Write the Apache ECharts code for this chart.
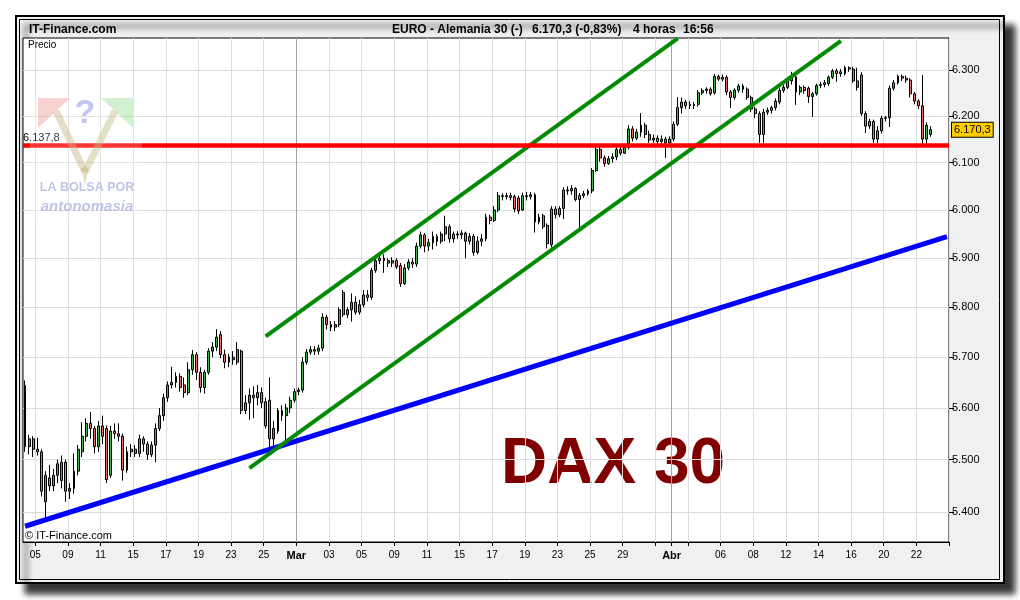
<!DOCTYPE html>
<html><head><meta charset="utf-8">
<script src="https://cdn.jsdelivr.net/npm/echarts@6/dist/echarts.min.js"></script>
<style>html,body{margin:0;padding:0;background:#fff}#c{width:1020px;height:600px}</style>
</head><body><div id="c"></div><script>
// ---- data ----
const febDays = [4,5,8,9,10,11,12,15,16,17,18,19,22,23,24,25,26];
const marDays = [1,2,3,4,5,8,9,10,11,12,15,16,17,18,19,22,23,24,25,26,29,30,31];
const aprDays = [1,2,5,6,7,8,9,12,13,14,15,16,19,20,21,22,23];
const monthLabels = { Feb: 'Feb', Mar: 'Mar', Apr: 'Abr' };
const tickDays = ['Feb 05','Feb 09','Feb 11','Feb 15','Feb 17','Feb 19','Feb 23','Feb 25',
  'Mar 01','Mar 03','Mar 05','Mar 09','Mar 11','Mar 15','Mar 17','Mar 19','Mar 23','Mar 25','Mar 29','Mar 31',
  'Apr 01','Apr 02','Apr 06','Apr 08','Apr 12','Apr 14','Apr 16','Apr 20','Apr 22'];
const hiddenTickLabels = ['Mar 31','Apr 02'];
const barsPerDay = 4;
const firstDayBars = 3;
const yTicks = [5400,5500,5600,5700,5800,5900,6000,6100,6200,6300];
const yRange = [5344.4, 6370.6];
// [open, close, low, high] per 4-hour bar
const candles = [
[5644,5525,5515,5654],[5525,5540,5510,5548],[5540,5520,5505,5545],[5520,5515,5508,5542],[5515,5440,5430,5520],
[5420,5470,5385,5478],[5465,5450,5440,5490],[5450,5470,5440,5482],[5470,5492,5455,5500],[5460,5495,5445,5508],
[5495,5440,5420,5500],[5440,5445,5425,5455],[5445,5478,5435,5512],[5478,5520,5470,5528],[5515,5545,5505,5572],
[5545,5570,5535,5580],[5570,5560,5540,5592],[5560,5525,5512,5565],[5525,5565,5515,5575],[5565,5545,5530,5585],
[5560,5462,5455,5566],[5470,5555,5465,5565],[5555,5550,5540,5570],[5550,5545,5535,5570],[5545,5480,5460,5550],
[5480,5515,5475,5525],[5515,5520,5505,5530],[5520,5512,5505,5528],[5512,5540,5505,5548],[5540,5530,5515,5545],
[5530,5510,5500,5535],[5510,5528,5505,5535],[5528,5560,5495,5570],[5560,5585,5555,5600],[5585,5620,5575,5628],
[5620,5645,5612,5652],[5645,5650,5638,5681],[5650,5662,5640,5670],[5662,5640,5632,5668],[5645,5630,5620,5660],
[5630,5675,5625,5690],[5675,5705,5665,5714],[5705,5670,5655,5710],[5670,5640,5630,5680],[5640,5670,5628,5675],
[5670,5712,5665,5718],[5712,5720,5700,5730],[5720,5740,5712,5756],[5745,5705,5698,5752],[5705,5690,5678,5715],
[5690,5700,5680,5706],[5700,5695,5685,5712],[5690,5715,5685,5730],[5712,5595,5588,5715],[5595,5610,5588,5625],
[5610,5625,5577,5638],[5625,5620,5580,5642],[5620,5630,5605,5645],[5630,5610,5600,5640],[5612,5565,5560,5620],
[5615,5540,5522,5660],[5540,5560,5520,5575],[5555,5595,5550,5600],[5595,5585,5575,5605],[5585,5600,5526,5608],
[5600,5615,5590,5622],[5615,5632,5610,5638],[5632,5635,5625,5640],[5635,5690,5630,5700],[5690,5710,5685,5716],
[5710,5715,5705,5722],[5715,5712,5704,5722],[5712,5718,5705,5725],[5718,5780,5712,5788],[5780,5765,5755,5785],
[5765,5760,5752,5772],[5760,5765,5752,5772],[5765,5795,5760,5800],[5830,5785,5780,5835],[5785,5795,5778,5800],
[5795,5810,5771,5828],[5810,5790,5785,5822],[5790,5805,5785,5815],[5805,5825,5800,5835],[5825,5820,5812,5835],
[5820,5875,5815,5880],[5875,5895,5870,5900],[5895,5900,5888,5908],[5900,5895,5870,5908],[5895,5890,5882,5900],
[5890,5895,5882,5902],[5895,5882,5878,5900],[5885,5848,5841,5890],[5848,5880,5845,5888],[5880,5892,5875,5898],
[5892,5888,5880,5900],[5888,5925,5882,5932],[5925,5948,5920,5955],[5948,5925,5912,5952],[5925,5932,5915,5940],
[5932,5945,5918,5955],[5945,5935,5925,5950],[5935,5950,5930,5955],[5950,5965,5935,5988],[5965,5940,5932,5970],
[5940,5950,5932,5955],[5950,5948,5940,5956],[5948,5952,5940,5958],[5952,5935,5900,5955],[5935,5945,5928,5952],
[5945,5912,5905,5950],[5912,5935,5908,5945],[5935,5940,5925,5950],[5940,5985,5935,5992],[5985,5978,5970,5990],
[5978,6000,5975,6008],[6000,6030,5995,6038],[6030,6028,6020,6035],[6028,6030,6022,6036],[6030,6026,6020,6036],
[6028,6002,5995,6032],[6025,5998,5992,6030],[6000,6030,5998,6036],[6030,6028,6020,6038],[6028,6032,6022,6038],
[6032,5975,5953,6036],[5975,5985,5970,5992],[5988,5965,5960,5992],[5968,5930,5920,5972],[5928,6002,5922,6008],
[6002,5990,5982,6008],[5990,6003,5985,6008],[6003,6042,5981,6048],[6042,6040,6032,6050],[6040,6045,6032,6052],
[6045,6022,6018,6048],[6022,6030,5958,6036],[6030,6034,6025,6040],[6034,6040,6030,6044],[6040,6083,6035,6088],
[6083,6128,6080,6134],[6128,6110,6102,6134],[6110,6098,6091,6115],[6098,6108,6095,6114],[6108,6112,6100,6120],
[6112,6128,6105,6134],[6128,6120,6115,6135],[6120,6132,6118,6138],[6132,6172,6128,6180],[6172,6152,6145,6178],
[6152,6165,6148,6172],[6165,6180,6155,6206],[6180,6160,6152,6185],[6160,6148,6142,6168],[6148,6152,6142,6160],
[6152,6145,6140,6158],[6145,6150,6140,6158],[6150,6142,6110,6155],[6142,6150,6138,6156],[6150,6182,6145,6188],
[6182,6218,6178,6241],[6218,6230,6205,6240],[6230,6222,6215,6235],[6222,6225,6215,6232],[6225,6222,6215,6230],
[6225,6250,6220,6256],[6250,6255,6245,6260],[6255,6258,6248,6262],[6258,6248,6244,6262],[6250,6286,6246,6291],
[6286,6280,6276,6290],[6280,6284,6275,6290],[6284,6252,6245,6288],[6252,6240,6217,6256],[6240,6256,6235,6260],
[6256,6265,6250,6270],[6265,6258,6250,6270],[6258,6240,6235,6262],[6240,6215,6208,6244],[6215,6205,6195,6220],
[6205,6160,6142,6210],[6160,6208,6142,6215],[6208,6212,6202,6218],[6212,6218,6205,6222],[6218,6232,6212,6238],
[6230,6255,6225,6260],[6255,6262,6250,6268],[6262,6276,6258,6282],[6276,6285,6268,6296],[6285,6252,6224,6290],
[6252,6262,6245,6266],[6262,6255,6248,6266],[6260,6242,6228,6264],[6242,6248,6198,6252],[6248,6266,6244,6270],
[6266,6268,6260,6274],[6268,6272,6262,6278],[6270,6284,6265,6288],[6284,6298,6280,6302],[6298,6292,6274,6303],
[6292,6296,6285,6302],[6292,6305,6288,6309],[6305,6302,6296,6308],[6302,6276,6272,6307],[6276,6262,6255,6305],
[6289,6205,6200,6295],[6205,6178,6163,6210],[6178,6188,6172,6194],[6188,6150,6142,6192],[6150,6168,6142,6178],
[6168,6195,6162,6200],[6195,6196,6188,6200],[6196,6260,6176,6266],[6260,6272,6255,6278],[6272,6286,6268,6290],
[6286,6282,6276,6290],[6282,6278,6272,6288],[6278,6248,6240,6282],[6248,6232,6225,6252],[6232,6222,6215,6236],
[6222,6150,6140,6289],[6150,6180,6140,6186],[6160,6170.3,6155,6178]
];
const supportLevel = 6137.8;
const lastPrice = 6170.3;
const changePct = -0.83;
// trend lines: [barIndex, price] end points
const blueTrend = [[0, 5373.8], [226, 5944.7]];
const greenUpper = [[59, 5741.5], [160, 6369.7]];
const greenLower = [[55, 5483.6], [200, 6364.0]];

// ---- helpers ----
function fmt(v, d) {
  const s = v.toFixed(d);
  const parts = s.split('.');
  const neg = parts[0].startsWith('-');
  let ip = neg ? parts[0].slice(1) : parts[0];
  ip = ip.replace(/\B(?=(\d{3})+(?!\d))/g, '.');
  return (neg ? '-' : '') + ip + (parts[1] ? ',' + parts[1] : '');
}
const dayKeys = [];
[['Feb', febDays], ['Mar', marDays], ['Apr', aprDays]].forEach(([m, ds]) =>
  ds.forEach(d => dayKeys.push(m + ' ' + String(d).padStart(2, '0'))));
const categories = [];
dayKeys.forEach((key, di) => {
  const n = di === 0 ? firstDayBars : barsPerDay;
  for (let k = barsPerDay - n; k < barsPerDay; k++) categories.push(key + '|' + k);
});
const isTick = v => v.endsWith('|0') && tickDays.includes(v.slice(0, 6));
const isLabel = v => isTick(v) && !hiddenTickLabels.includes(v.slice(0, 6));
const vLineColors = tickDays.map(k => k.endsWith('01') ? '#a4a4a4' : '#dddddd').concat(['#dddddd']);

const FONT = '"Liberation Sans", Arial, sans-serif';
const chart = echarts.init(document.getElementById('c'), null, { renderer: 'canvas' });
const trendLine = (pts, color, width) => [
  { coord: pts[0], lineStyle: { color: color, width: width, type: 'solid', opacity: 1 } },
  { coord: pts[1] }
];

chart.setOption({
  animation: false,
  backgroundColor: '#ffffff',
  textStyle: { fontFamily: FONT },
  grid: { left: 23, top: 38, right: 71, bottom: 58, show: true, borderColor: '#000', borderWidth: 1, backgroundColor: 'transparent' },
  xAxis: {
    type: 'category', data: categories, boundaryGap: true,
    axisLine: { show: true, lineStyle: { color: '#000', width: 1 } },
    axisTick: { show: true, interval: (i, v) => isTick(v), length: 4, lineStyle: { color: '#000' } },
    axisLabel: {
      show: true, interval: (i, v) => isLabel(v), margin: 8, color: '#000', fontSize: 10, fontFamily: FONT,
      padding: [0, 4, 0, 0],
      formatter: v => {
        const key = v.slice(0, 6), dd = key.slice(4);
        return dd === '01' ? '{m|' + monthLabels[key.slice(0, 3)] + '}' : dd;
      },
      rich: { m: { fontWeight: 'bold', fontSize: 11, fontFamily: FONT, color: '#000' } }
    },
    splitLine: { show: true, interval: (i, v) => isTick(v), lineStyle: { color: vLineColors, width: 1 } }
  },
  yAxis: {
    type: 'log', logBase: 10, position: 'right', min: yRange[0], max: yRange[1],
    axisLine: { show: false },
    axisTick: { show: true, customValues: yTicks, length: 5, lineStyle: { color: '#000' } },
    axisLabel: { show: true, customValues: yTicks, margin: 3, color: '#000', fontSize: 11, fontFamily: FONT,
      formatter: v => fmt(v, 0) },
    splitLine: { show: true, lineStyle: { color: '#dddddd', width: 1 } }
  },
  series: [{
    type: 'candlestick', data: candles, barWidth: 2.4, large: false,
    itemStyle: { color: '#3cb44a', color0: '#e46c6c', borderColor: '#000', borderColor0: '#000', borderWidth: 1 },
    markLine: {
      silent: true, symbol: ['none', 'none'], animation: false,
      label: { show: false },
      data: [
        trendLine(blueTrend, '#0000ff', 5),
        trendLine(greenUpper, '#058a05', 4),
        trendLine(greenLower, '#058a05', 4),
        { yAxis: supportLevel, lineStyle: { color: '#ff0000', width: 4.5, type: 'solid' },
          label: { show: true, position: 'insideStartTop', distance: [0, 1], formatter: fmt(supportLevel, 1),
            color: '#000', fontSize: 11, fontFamily: FONT } },
        { yAxis: lastPrice, lineStyle: { color: 'rgba(0,0,0,0)', width: 1, type: 'solid', opacity: 1 },
          label: { show: true, position: 'end', distance: 3, formatter: fmt(lastPrice, 1), opacity: 1,
            color: '#000', fontSize: 11, fontFamily: FONT, backgroundColor: '#ffcc00',
            borderColor: '#000', borderWidth: 1, padding: [2, 2, 1, 2] } }
      ]
    }
  }],
  graphic: { elements: [
    { type: 'rect', z: -10, shape: { x: 16, y: 16, width: 988, height: 567 },
      style: { fill: '#eff0f2', stroke: '#000', lineWidth: 2, shadowBlur: 6, shadowOffsetX: 10, shadowOffsetY: 10, shadowColor: 'rgba(0,0,0,0.8)' } },
    { type: 'rect', z: -9, shape: { x: 19.5, y: 19.5, width: 980, height: 560 },
      style: { fill: null, stroke: '#000', lineWidth: 1 } },
    { type: 'rect', z: -8, shape: { x: 23, y: 38, width: 926, height: 504 }, style: { fill: '#ffffff' } },
    { type: 'text', z: -7, x: 501, y: 465,
      style: { text: 'DAX 30', font: 'bold 64px ' + FONT, fill: '#800000', align: 'left', verticalAlign: 'middle' } },
    { type: 'text', z: 5, x: 29, y: 30,
      style: { text: 'IT-Finance.com', font: 'bold 12px ' + FONT, fill: '#000', verticalAlign: 'middle' } },
    { type: 'text', z: 5, x: 392, y: 30,
      style: { text: 'EURO - Alemania 30 (-)', font: 'bold 12px ' + FONT, fill: '#000', verticalAlign: 'middle' } },
    { type: 'text', z: 5, x: 532, y: 30,
      style: { text: fmt(lastPrice, 1) + ' (' + fmt(changePct, 2) + '%)', font: 'bold 12px ' + FONT, fill: '#000', verticalAlign: 'middle' } },
    { type: 'text', z: 5, x: 633, y: 30,
      style: { text: '4 horas', font: 'bold 12px ' + FONT, fill: '#000', verticalAlign: 'middle' } },
    { type: 'text', z: 5, x: 683, y: 30,
      style: { text: '16:56', font: 'bold 12px ' + FONT, fill: '#000', verticalAlign: 'middle' } },
    { type: 'text', z: 5, x: 28, y: 45,
      style: { text: 'Precio', font: '10px ' + FONT, fill: '#000', verticalAlign: 'middle' } },
    { type: 'text', z: 5, x: 25, y: 536,
      style: { text: '\u00a9 IT-Finance.com', font: '11px ' + FONT, fill: '#000', verticalAlign: 'middle' } },
    // watermark logo
    { type: 'rect', z: 20, shape: { x: 30, y: 96, width: 112, height: 124 }, style: { fill: 'rgba(255,255,255,0.2)' } },
    { type: 'polygon', z: 21, shape: { points: [[38, 98], [70, 98], [38, 128]] }, style: { fill: 'rgba(238,140,140,0.4)' } },
    { type: 'polygon', z: 21, shape: { points: [[133, 98], [101, 98], [133, 128]] }, style: { fill: 'rgba(140,220,140,0.4)' } },
    { type: 'polyline', z: 21, shape: { points: [[56, 111], [85, 172]] }, style: { stroke: 'rgba(205,175,130,0.45)', lineWidth: 7, fill: null } },
    { type: 'polyline', z: 21, shape: { points: [[115, 111], [85, 172]] }, style: { stroke: 'rgba(190,190,130,0.45)', lineWidth: 7, fill: null } },
    { type: 'polygon', z: 21, shape: { points: [[81, 168], [89, 168], [85, 185]] }, style: { fill: 'rgba(205,185,140,0.45)' } },
    { type: 'text', z: 22, x: 85, y: 114,
      style: { text: '?', font: 'bold 34px ' + FONT, fill: 'rgba(150,150,235,0.55)', align: 'center', verticalAlign: 'middle' } },
    { type: 'text', z: 22, x: 87, y: 188,
      style: { text: 'LA BOLSA POR', font: 'bold 12.5px ' + FONT, fill: 'rgba(150,156,214,0.6)', align: 'center', verticalAlign: 'middle' } },
    { type: 'text', z: 22, x: 87, y: 207,
      style: { text: 'antonomasia', font: 'italic bold 15px ' + FONT, fill: 'rgba(150,156,214,0.6)', align: 'center', verticalAlign: 'middle' } }
  ] }
});
</script></body></html>
